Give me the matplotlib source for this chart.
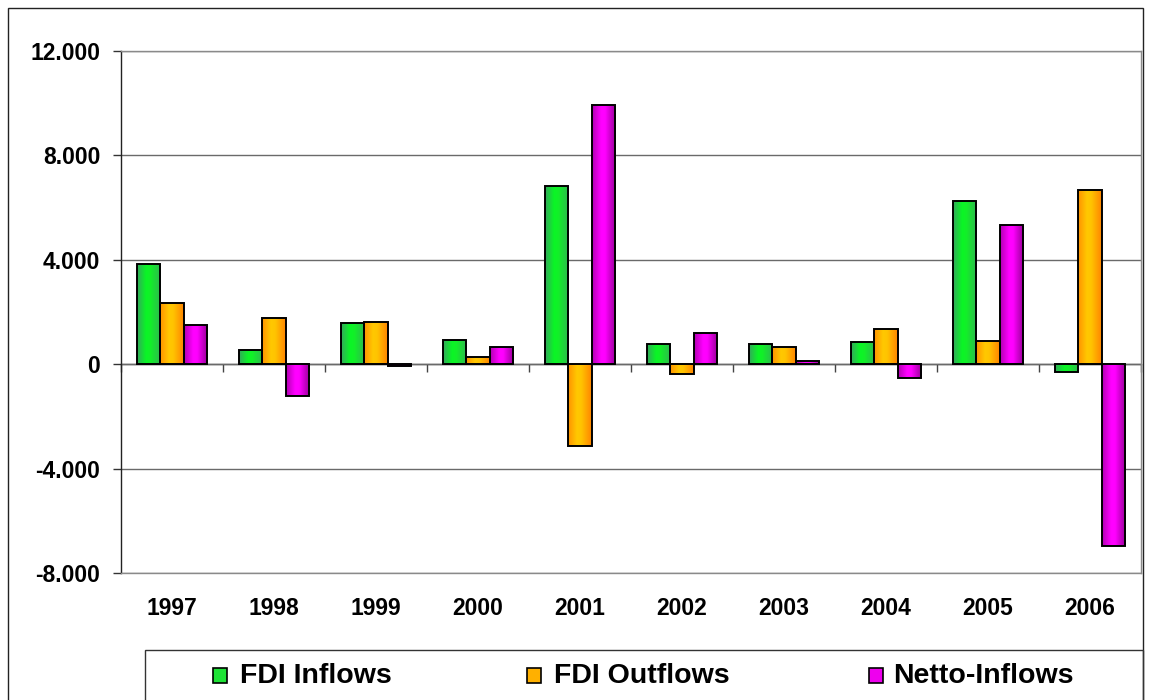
import numpy as np
import matplotlib
matplotlib.use("Agg")
import matplotlib.pyplot as plt
from matplotlib.patches import Rectangle
from matplotlib.colors import LinearSegmentedColormap
from matplotlib.ticker import FuncFormatter, FixedLocator

plt.rcParams['font.family'] = ['Liberation Sans', 'DejaVu Sans']
plt.rcParams['font.weight'] = 'bold'

years = ['1997', '1998', '1999', '2000', '2001', '2002', '2003', '2004', '2005', '2006']
inflows = [3840, 560, 1560, 910, 6810, 790, 790, 840, 6240, -290]
outflows = [2340, 1770, 1630, 290, -3140, -360, 650, 1340, 900, 6660]
netto = [1490, -1200, -80, 650, 9950, 1210, 140, -510, 5330, -6960]
series_names = ['FDI Inflows', 'FDI Outflows', 'Netto-Inflows']
series_values = [inflows, outflows, netto]
yticks = [-8000, -4000, 0, 4000, 8000, 12000]

gradients = [
    ['#34a85c', '#0af526', '#12f028', '#2fb850'],
    ['#ff9200', '#ffc800', '#ffc400', '#ff8400'],
    ['#b000b0', '#ff00ff', '#ff00ff', '#950095'],
]
swatch_colors = ['#1ee236', '#ffb000', '#ee00ee']

W, H = 1152, 700
fig = plt.figure(figsize=(W / 100, H / 100), dpi=100)

def fx(x):
    return x / W

def fy(y):
    return 1 - y / H

ax = fig.add_axes([fx(121), fy(573), fx(1141) - fx(121), fy(51) - fy(573)])

n = len(years)
x = np.arange(n)
bw = 0.2255
offsets = [-bw, 0, bw]
ymin, ymax = -8000, 12000

grad_img = np.linspace(0, 1, 256)[None, :]
for k, (vals, stops) in enumerate(zip(series_values, gradients)):
    cmap = LinearSegmentedColormap.from_list(f'g{k}', list(zip([0, 0.38, 0.55, 1], stops)))
    bars = ax.bar(x + offsets[k], vals, width=bw, facecolor='none',
                  edgecolor='black', linewidth=1.4, zorder=4)
    for rect in bars:
        x0 = rect.get_x()
        x1 = x0 + rect.get_width()
        y0 = rect.get_y()
        y1 = y0 + rect.get_height()
        im = ax.imshow(grad_img, cmap=cmap, extent=(x0, x1, min(y0, y1), max(y0, y1)),
                       aspect='auto', origin='lower', interpolation='bilinear', zorder=3)
        im.set_clip_path(rect)

ax.set_xlim(-0.5, n - 0.5)
ax.set_ylim(ymin, ymax)
ax.set_aspect('auto')

# gridlines
ax.set_yticks(yticks)
ax.yaxis.grid(True, color='#6a6a6a', linewidth=1.0, zorder=1)
ax.set_axisbelow(True)

ax.yaxis.set_major_formatter(FuncFormatter(lambda v, p: f'{int(v):,}'.replace(',', '.')))
ax.tick_params(axis='y', direction='out', length=6, width=1, color='#333333',
               pad=9, labelsize=16.5)
for lab in ax.get_yticklabels():
    lab.set_fontweight('bold')

ax.set_xticks(x)
ax.set_xticklabels(years, fontsize=16.5, fontweight='bold')
ax.tick_params(axis='x', length=0, pad=17)

for s in ['top', 'right', 'bottom']:
    ax.spines[s].set_color('#8a8a8a')
    ax.spines[s].set_linewidth(1)
ax.spines['left'].set_color('#222222')
ax.spines['left'].set_linewidth(1)

# zero axis with category separators
zero_frac = (0 - ymin) / (ymax - ymin)
sec = ax.secondary_xaxis(zero_frac)
sec.xaxis.set_major_locator(FixedLocator(np.arange(-0.5, n, 1.0)))
sec.tick_params(axis='x', direction='out', length=5.5, width=1, color='#444444', labelbottom=False)
sec.set_xticklabels([])
sec.spines['bottom'].set_color('#333333')
sec.spines['bottom'].set_linewidth(1)

# outer border
fig.add_artist(Rectangle((fx(8), -0.1), fx(1143) - fx(8), fy(8) + 0.1,
                         transform=fig.transFigure, fill=False, edgecolor='#222222', linewidth=1))
# legend box
fig.add_artist(Rectangle((fx(145), -0.1), fx(1143) - fx(145), fy(650) + 0.1,
                         transform=fig.transFigure, fill=False, edgecolor='#333333', linewidth=1))

swatch_x = [213, 527, 869]
text_x = [240, 554, 893]
for name, col, sx, tx in zip(series_names, swatch_colors, swatch_x, text_x):
    fig.add_artist(Rectangle((fx(sx), fy(683)), fx(14), 15 / H, transform=fig.transFigure,
                             facecolor=col, edgecolor='black', linewidth=1.2))
    fig.text(fx(tx), fy(676), name, fontsize=20.5, fontweight='bold', va='center', ha='left')

fig.savefig('out.png', dpi=100)
